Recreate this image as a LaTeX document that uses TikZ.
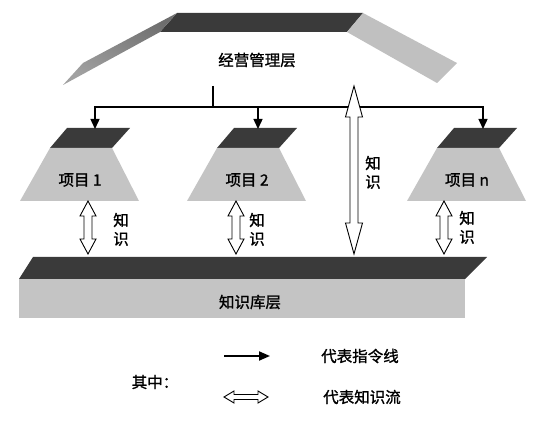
\documentclass[tikz,border=0pt]{standalone}
\usepackage{fontspec}
\newfontfamily\cjk[FakeBold=1.2]{Noto Sans CJK SC}
\usetikzlibrary{arrows.meta,calc}
\definecolor{darkband}{HTML}{3A3A3A}
\definecolor{lightface}{HTML}{C4C4C4}
\definecolor{midface}{HTML}{8A8A8A}
\definecolor{roofright}{HTML}{C0C0C0}
\tikzset{
  lbl/.style={font=\cjk\fontsize{15.5}{15.5}\selectfont, inner sep=0pt},
  cmd/.style={line width=1.4pt, -{Triangle[length=10pt,width=9pt]}},
  hollowstyle/.style={fill=white, draw=black, line width=0.9pt, line join=miter},
}
\newcommand\hollowarrow[5]{%
\filldraw[hollowstyle]
 (#1) -- ($($(#1)!#5!(#2)$)!#4!90:(#2)$) -- ($($(#1)!#5!(#2)$)!#3!90:(#2)$)
 -- ($($(#2)!#5!(#1)$)!#3!-90:(#1)$) -- ($($(#2)!#5!(#1)$)!#4!-90:(#1)$)
 -- (#2) -- ($($(#2)!#5!(#1)$)!#4!90:(#1)$) -- ($($(#2)!#5!(#1)$)!#3!90:(#1)$)
 -- ($($(#1)!#5!(#2)$)!#3!-90:(#2)$) -- ($($(#1)!#5!(#2)$)!#4!-90:(#2)$) -- cycle;}
\newcommand\project[2]{% #1 center x, #2 name
  \fill[darkband] ({#1-13},128) -- ({#1+50},128) -- ({#1+32},148) -- ({#1-30},148) -- cycle;
  \fill[lightface] ({#1-30},148) -- ({#1+32},148) -- ({#1+59},201) -- ({#1-60},201) -- cycle;
  \coordinate (#2bot) at (#1,201);}
\begin{document}
\begin{tikzpicture}[x=1pt,y=-1pt]
\useasboundingbox (0,0) rectangle (550,425);
% management roof
\fill[darkband] (177,13) -- (363,13) -- (347,32) -- (160,32) -- cycle;
\shade[top color=midface!80!black, bottom color=midface!80!white, shading angle=-30] (177,13) -- (83,63) -- (63,85) -- (160,32) -- cycle;
\fill[roofright] (363,13) -- (457,63) -- (437,83) -- (347,32) -- cycle;
\node[lbl] (mgmt) at (257,60) {经营管理层};
% projects
\project{80}{pa}
\project{247}{pb}
\project{467}{pn}
\node[lbl] (p1) at (80,180) {项目 1};
\node[lbl] (p2) at (247,180) {项目 2};
\node[lbl] (p3) at (467,180) {项目 n};
% knowledge base
\fill[darkband] (33,257) -- (487,257) -- (465,279) -- (19,279) -- cycle;
\fill[lightface] (19,279) rectangle (465,318);
\node[lbl] (kb) at (250,302) {知识库层};
% command lines
\coordinate (stub) at (213,86);
\coordinate (j) at (213,107);
\coordinate (t1) at (95,129);
\coordinate (t2) at (258,129);
\coordinate (tn) at (483,129);
\draw[line width=1.4pt] (stub) -- (j);
\draw[line width=1.4pt] (95,107) -- (483,107);
\draw[cmd] (j) -| (t1);
\draw[cmd] (j) -| (t2);
\draw[cmd] (j) -| (tn);
% knowledge arrows
\coordinate (b1) at (88,254); \coordinate (a1) at (88,201);
\coordinate (b2) at (236,254); \coordinate (a2) at (236,201);
\coordinate (bn) at (444,254); \coordinate (an) at (444,201);
\hollowarrow{a1}{b1}{4pt}{8pt}{15pt}
\hollowarrow{a2}{b2}{4pt}{8pt}{15pt}
\hollowarrow{an}{bn}{4pt}{8pt}{15pt}
\coordinate (bigtop) at (354,86); \coordinate (bigbot) at (354,254);
\hollowarrow{bigtop}{bigbot}{4pt}{8.5pt}{31pt}
\node[lbl] (k1) at (121,220) {知};
\node[lbl] (k1b) at (121,239) {识};
\node[lbl] (k2) at (257,220) {知};
\node[lbl] (k2b) at (257,239) {识};
\node[lbl] (k3) at (467,218) {知};
\node[lbl] (k3b) at (467,237) {识};
\node[lbl] (k4) at (373,163) {知};
\node[lbl] (k4b) at (373,182) {识};
% legend
\node[lbl] (qz) at (155,382) {其中：};
\coordinate (la) at (224,356); \coordinate (lb) at (270,356);
\draw[line width=2pt, -{Triangle[length=11pt,width=9pt]}] (la) -- (lb);
\node[lbl] (l1) at (360,356) {代表指令线};
\coordinate (ha) at (224,397); \coordinate (hb) at (268,397);
\hollowarrow{ha}{hb}{2.5pt}{6pt}{10pt}
\node[lbl] (l2) at (362,397) {代表知识流};
\end{tikzpicture}
\end{document}
